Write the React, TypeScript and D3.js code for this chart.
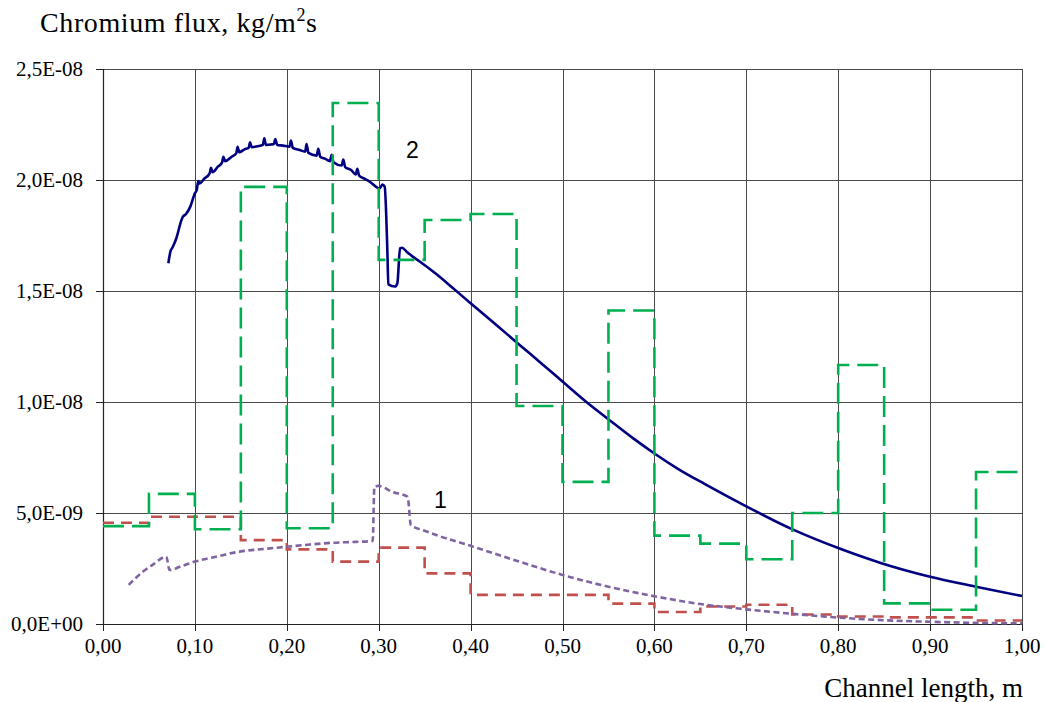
import React from 'react';
import * as d3 from 'd3';

// values are in units of 1e-9 kg/m²s
const UNIT = 1e-9;

const xTicks = [0, 0.1, 0.2, 0.3, 0.4, 0.5, 0.6, 0.7, 0.8, 0.9, 1.0];
const yTicks = [0, 5, 10, 15, 20, 25];

// curve 2 (navy, solid)
const navyPoints: [number, number][] = [
  [0.0711, 16.25], [0.0735, 16.8], [0.0755, 16.95], [0.08, 17.4], [0.085, 18.15], [0.087, 18.35],
  [0.09, 18.45], [0.095, 18.8], [0.1, 19.4], [0.102, 19.55], [0.1037, 19.95], [0.1052, 19.85],
  [0.11, 20.05], [0.116, 20.3], [0.1175, 20.55], [0.1192, 20.35], [0.125, 20.6], [0.1295, 20.78],
  [0.131, 21.05], [0.1328, 20.85], [0.14, 21.05], [0.145, 21.2], [0.1465, 21.5], [0.1482, 21.25],
  [0.154, 21.38], [0.1585, 21.45], [0.16, 21.7], [0.1618, 21.48], [0.168, 21.52], [0.174, 21.58],
  [0.1755, 21.88], [0.1773, 21.58], [0.183, 21.6], [0.186, 21.62], [0.1875, 21.85], [0.1895, 21.58],
  [0.196, 21.55], [0.203, 21.5], [0.2045, 21.78], [0.2065, 21.45], [0.214, 21.35], [0.22, 21.28],
  [0.2215, 21.62], [0.2235, 21.22], [0.2325, 21.1], [0.2343, 21.4], [0.2363, 21.05], [0.242, 20.95],
  [0.247, 20.85], [0.2488, 21.13], [0.2508, 20.8], [0.2597, 20.65], [0.2615, 20.92], [0.2635, 20.58],
  [0.27, 20.45], [0.275, 20.25], [0.2767, 20.5], [0.2787, 20.2], [0.285, 20.05], [0.2905, 19.92],
  [0.301, 19.62], [0.304, 19.8], [0.3065, 19.7], [0.3094, 16.85], [0.3105, 15.3], [0.3177, 15.2],
  [0.3203, 15.35], [0.3232, 16.92], [0.3255, 16.95], [0.3304, 16.77], [0.337, 16.55], [0.345, 16.32],
  [0.363, 15.75], [0.381, 15.12], [0.4, 14.45], [0.421, 13.72], [0.439, 13.08], [0.454, 12.55],
  [0.479, 11.67], [0.5, 10.92], [0.526, 10.0], [0.5516, 9.17], [0.577, 8.36], [0.6, 7.68],
  [0.626, 6.98], [0.655, 6.3], [0.7, 5.3], [0.751, 4.25], [0.8, 3.42], [0.847, 2.74],
  [0.9, 2.13], [0.95, 1.68], [1.0, 1.26],
];

// green dashed step curve
const greenEdges = [0, 0.05, 0.1, 0.15, 0.2, 0.25, 0.3, 0.35, 0.4, 0.45, 0.5, 0.55, 0.6, 0.65, 0.7, 0.75, 0.8, 0.85, 0.9, 0.95, 1.0];
const greenValues = [4.41, 5.86, 4.27, 19.69, 4.31, 23.47, 16.4, 18.2, 18.47, 9.82, 6.4, 14.12, 3.98, 3.62, 2.92, 5.0, 11.67, 0.93, 0.64, 6.85];

// red dashed step curve
const redEdges = [0, 0.05, 0.15, 0.2, 0.25, 0.3, 0.35, 0.4, 0.55, 0.6, 0.65, 0.7, 0.75, 0.8, 0.85, 0.95, 1.0];
const redValues = [4.56, 4.83, 3.78, 3.36, 2.81, 3.44, 2.28, 1.31, 0.92, 0.54, 0.79, 0.87, 0.43, 0.34, 0.3, 0.16];

// curve 1 (purple, dotted)
const purplePoints: [number, number][] = [
  [0.028, 1.76], [0.035, 2.05], [0.0435, 2.36], [0.055, 2.7], [0.0688, 3.03], [0.0725, 2.43],
  [0.085, 2.6], [0.1, 2.81], [0.125, 3.05], [0.1486, 3.26], [0.175, 3.38], [0.2, 3.48],
  [0.225, 3.58], [0.25, 3.66], [0.275, 3.7], [0.2935, 3.74], [0.2953, 6.19], [0.3, 6.22],
  [0.315, 5.95], [0.3315, 5.73], [0.335, 4.46], [0.35, 4.2], [0.366, 3.96], [0.4, 3.52],
  [0.45, 2.85], [0.5, 2.21], [0.55, 1.68], [0.6, 1.25], [0.65, 0.9], [0.7, 0.66],
  [0.75, 0.46], [0.8, 0.29], [0.85, 0.17], [0.9, 0.1], [0.95, 0.05], [1.0, 0.03],
];

function steps(edges: number[], values: number[]): [number, number][] {
  const pts: [number, number][] = [];
  values.forEach((v, i) => {
    pts.push([edges[i], v]);
    pts.push([edges[i + 1], v]);
  });
  return pts;
}

function fmtY(v: number): string {
  const val = v * UNIT;
  if (val === 0) return '0,0E+00';
  const e = Math.floor(Math.log10(val) + 1e-9);
  const m = val / Math.pow(10, e);
  return m.toFixed(1).replace('.', ',') + 'E' + (e < 0 ? '-' : '+') + String(Math.abs(e)).padStart(2, '0');
}
const fmtX = (v: number) => d3.format('.2f')(v).replace('.', ',');

const SERIF = "'Liberation Serif', 'Times New Roman', Times, serif";
const SANS = "'Liberation Sans', Arial, sans-serif";

export default function App() {
  const W = 1046, H = 702;
  const x = d3.scaleLinear().domain([0, 1]).range([103, 1022]);
  const y = d3.scaleLinear().domain([0, 25]).range([624, 69]);
  const line = d3.line<[number, number]>().x(d => x(d[0])).y(d => y(d[1]));
  const smooth = d3.line<[number, number]>().x(d => x(d[0])).y(d => y(d[1])).curve(d3.curveMonotoneX);
  const crisp = (v: number) => Math.round(v) + 0.5;
  const gridColor = '#4a4a4a';

  return (
    <svg width={W} height={H} style={{ position: 'absolute', left: 0, top: 0, display: 'block', background: '#fff' }}>
      <rect x={0} y={0} width={W} height={H} fill="#fff" />
      {/* grid */}
      {xTicks.map(t => (
        <line key={'gx' + t} x1={crisp(x(t))} x2={crisp(x(t))} y1={y(25)} y2={y(0)} stroke={gridColor} strokeWidth={1} />
      ))}
      {yTicks.map(t => (
        <line key={'gy' + t} x1={x(0)} x2={x(1)} y1={crisp(y(t))} y2={crisp(y(t))} stroke={gridColor} strokeWidth={1} />
      ))}
      {/* ticks */}
      {yTicks.map(t => (
        <line key={'ty' + t} x1={x(0) - 7} x2={x(0)} y1={crisp(y(t))} y2={crisp(y(t))} stroke="#222" strokeWidth={1} />
      ))}
      {xTicks.map(t => (
        <line key={'tx' + t} x1={crisp(x(t))} x2={crisp(x(t))} y1={y(0)} y2={y(0) + 7} stroke="#222" strokeWidth={1} />
      ))}
      {/* axes */}
      <line x1={crisp(x(0))} x2={crisp(x(0))} y1={y(25)} y2={y(0)} stroke="#222" strokeWidth={1.2} />
      <line x1={x(0)} x2={x(1)} y1={crisp(y(0))} y2={crisp(y(0))} stroke="#222" strokeWidth={1.2} />

      {/* series */}
      <path d={smooth(navyPoints) || ''} fill="none" stroke="#000080" strokeWidth={2.6} strokeLinejoin="round" />
      <path d={line(steps(redEdges, redValues)) || ''} fill="none" stroke="#C0504D" strokeWidth={2.6} strokeDasharray="11,7" />
      <path d={smooth(purplePoints) || ''} fill="none" stroke="#8064A2" strokeWidth={2.6} strokeDasharray="6,3.5" />
      <path d={line(steps(greenEdges, greenValues)) || ''} fill="none" stroke="#00B050" strokeWidth={2.6} strokeDasharray="21,8" />

      {/* tick labels */}
      {yTicks.map(t => (
        <text key={'ly' + t} x={83} y={y(t)} dy="0.35em" textAnchor="end" fontFamily={SERIF} fontSize={21} fill="#000">{fmtY(t)}</text>
      ))}
      {xTicks.map(t => (
        <text key={'lx' + t} x={x(t)} y={653} textAnchor="middle" fontFamily={SERIF} fontSize={21} fill="#000">{fmtX(t)}</text>
      ))}

      {/* series labels */}
      <text x={406} y={158} fontFamily={SANS} fontSize={23} fill="#000">2</text>
      <text x={434} y={508} fontFamily={SANS} fontSize={23} fill="#000">1</text>

      {/* axis titles */}
      <text x={40} y={32} fontFamily={SERIF} fontSize={28} letterSpacing={0.6} fill="#000">
        Chromium flux, kg/m<tspan dy={-11} fontSize={18}>2</tspan><tspan dy={11}>s</tspan>
      </text>
      <text x={1023} y={697} textAnchor="end" fontFamily={SERIF} fontSize={27} fill="#000">Channel length, m</text>
    </svg>
  );
}
